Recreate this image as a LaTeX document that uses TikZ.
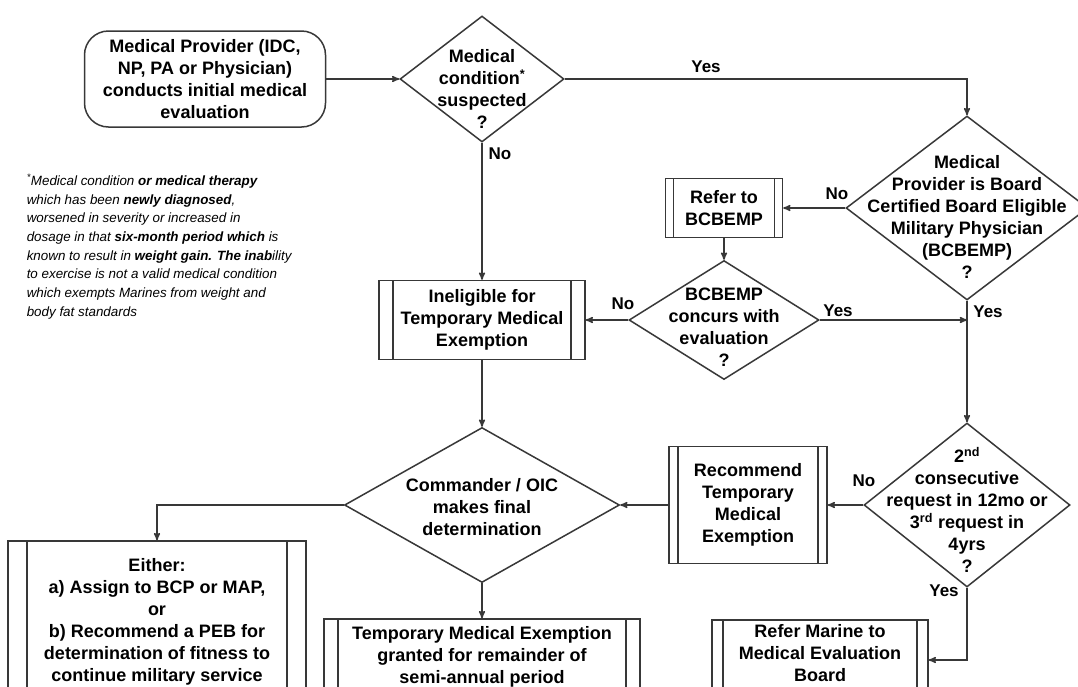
\documentclass[tikz,border=0pt]{standalone}
\usepackage{fontspec}
\setmainfont{Liberation Sans}
\usepackage{tikz}
\usetikzlibrary{arrows,shapes.geometric}

\colorlet{lineg}{black!78}
\newcommand\bxfont{\fontsize{18}{22}\selectfont\bfseries}

\begin{document}
\begin{tikzpicture}[x=1pt, y=-1pt, ->, >=stealth', line width=1.5pt,
  start/.style={draw=lineg, rounded corners=24pt, minimum width=241pt, minimum height=96pt, align=center, font=\bxfont, inner sep=0pt},
  sub/.style={draw=lineg, rectangle, align=center, font=\bxfont, inner sep=0pt,
    path picture={\draw[-, lineg] ([xshift=#1]path picture bounding box.north west) -- ([xshift=#1]path picture bounding box.south west)
      ([xshift=-#1]path picture bounding box.north east) -- ([xshift=-#1]path picture bounding box.south east);}},
  sub/.default=9pt,
  choice/.style={draw=lineg, diamond, inner sep=0pt},
  qtext/.style={align=center, font=\bxfont, inner sep=0pt},
  lbl/.style={font=\fontsize{17}{20}\selectfont\bfseries, inner sep=0pt},
  note/.style={align=left, font=\fontsize{13.4}{18.7}\selectfont\itshape, inner sep=0pt}]

\path[use as bounding box] (0,0) rectangle (1078,686);
\clip (0,0) rectangle (1078,686);
\fill[white] (0,0) rectangle (1078,686);

\node[start] (start) at (205,79) {Medical Provider (IDC,\\NP, PA or Physician)\\conducts initial medical\\evaluation};

\node[choice, minimum width=164pt, minimum height=126pt,
  label={[qtext, yshift=-10pt]center:{Medical\\condition\textsuperscript{*}\\suspected\\?}}] (d1) at (482,79) {};
\node[choice, minimum width=242pt, minimum height=184pt,
  label={[qtext, yshift=-9pt]center:{Medical\\Provider is Board\\Certified Board Eligible\\Military Physician\\(BCBEMP)\\?}}] (d2) at (967,208) {};
\node[choice, minimum width=190pt, minimum height=119pt,
  label={[qtext, yshift=-7pt]center:{BCBEMP\\concurs with\\evaluation\\?}}] (d3) at (724,320) {};
\node[choice, minimum width=206pt, minimum height=164pt,
  label={[qtext, yshift=-5pt]center:{2\textsuperscript{nd}\\consecutive\\request in 12mo or\\3\textsuperscript{rd} request in\\4yrs\\?}}] (d4) at (967,505) {};
\node[choice, minimum width=275pt, minimum height=155pt,
  label={[qtext, yshift=-2pt]center:{Commander / OIC\\makes final\\determination}}] (cmd) at (482,505) {};

\node[sub=8pt, minimum width=117pt, minimum height=59pt] (refer) at (724,208) {Refer to\\BCBEMP};
\node[sub=14pt, minimum width=206pt, minimum height=79pt] (inel) at (482,320) {Ineligible for\\Temporary Medical\\Exemption};
\node[sub=9pt, minimum width=158pt, minimum height=117pt] (rec) at (748,505) {Recommend\\Temporary\\Medical\\Exemption};
\node[sub=19pt, minimum width=298pt, minimum height=162pt] (either) at (157,622) {Either:\\a) Assign to BCP or MAP,\\or\\b) Recommend a PEB for\\determination of fitness to\\continue military service};
\node[sub=14pt, minimum width=316pt, minimum height=76pt] (temp) at (482,657) {Temporary Medical Exemption\\granted for remainder of\\semi-annual period};
\node[sub=11pt, minimum width=216pt, minimum height=80pt,
  label={[qtext, yshift=7pt]center:{Refer Marine to\\Medical Evaluation\\Board}}] (marine) at (820,660) {};

\node[note, anchor=north west] (fn) at (26,173) {\textsuperscript{*}Medical condition \textbf{or medical therapy}\\which has been \textbf{newly diagnosed},\\worsened in severity or increased in\\dosage in that \textbf{six-month period which} is\\known to result in \textbf{weight gain. The inab}ility\\to exercise is not a valid medical condition\\which exempts Marines from weight and\\body fat standards};

\node[lbl] (yes1) at (706,67) {Yes};
\node[lbl] (no1) at (500,154) {No};
\node[lbl] (no2) at (837,194) {No};
\node[lbl] (no3) at (623,304) {No};
\node[lbl] (yes3) at (838,311) {Yes};
\node[lbl] (yes2) at (988,312) {Yes};
\node[lbl] (no4) at (864,481) {No};
\node[lbl] (yes4) at (944,591) {Yes};

\coordinate (join) at (d2.south |- d3.east);

\foreach \from/\to in {start/d1, d1/inel, d2/refer, refer/d3, d3/inel, d2/d4, inel/cmd, d4/rec, rec/cmd, cmd/temp}
    \draw[lineg] (\from) -- (\to);
\draw[lineg] (d1.east) -| (d2.north);
\draw[lineg] (d3.east) -- (join);
\draw[lineg] (cmd.west) -| (either.north);
\draw[lineg] (d4.south) |- (marine.east);
\end{tikzpicture}
\end{document}
